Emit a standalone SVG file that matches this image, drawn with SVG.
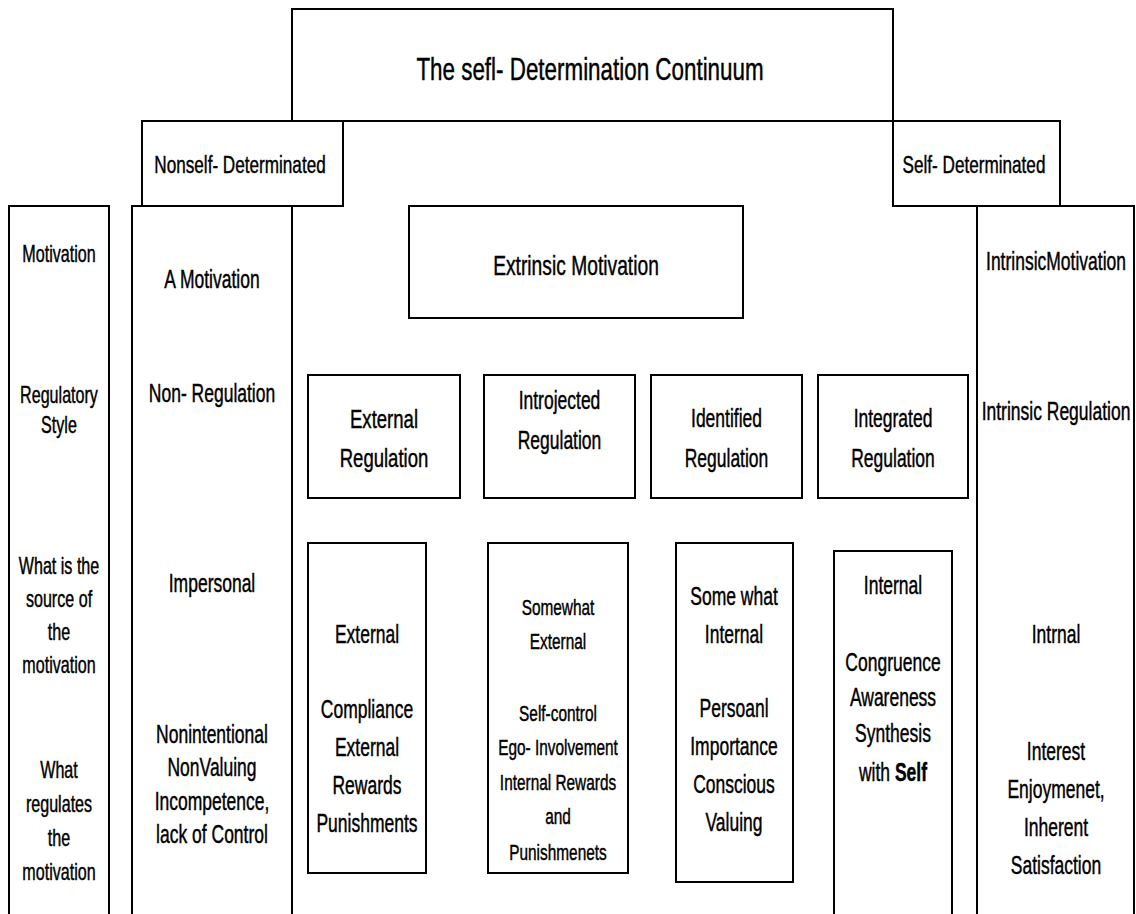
<svg xmlns="http://www.w3.org/2000/svg" width="1136" height="914" viewBox="0 0 1136 914">
  <style>
    .box{fill:#fff;stroke:#000;stroke-width:2}
    .open{fill:none;stroke:#000;stroke-width:2}
    text{font-family:"Liberation Sans",Arial,sans-serif;fill:#000;stroke:#000;stroke-width:0.45;text-anchor:middle}
    .f22{font-size:22px}
    .f23{font-size:23px}
    .f24{font-size:24.5px}
    .f25{font-size:25px}
    .f26{font-size:26.5px}
    .f27{font-size:27.5px}
    .f32{font-size:32px}
    .b{font-weight:bold}
  </style>
  <rect width="1136" height="914" fill="#fff"/>

  <!-- title -->
  <g id="title">
    <rect class="box" x="292" y="9" width="601" height="112"/>
    <text class="f32" transform="translate(590,80) scale(0.7,1)">The sefl- Determination Continuum</text>
  </g>

  <g id="nonself-determinated">
    <rect class="box" x="142" y="121" width="201" height="85"/>
    <text class="f24" transform="translate(240,173) scale(0.7,1)">Nonself- Determinated</text>
  </g>

  <g id="self-determinated">
    <rect class="box" x="893" y="121" width="167" height="85"/>
    <text class="f24" transform="translate(974,173) scale(0.7,1)">Self- Determinated</text>
  </g>

  <!-- row labels column -->
  <g id="row-labels">
    <path class="open" d="M9,916 V206 H109 V916"/>
    <text class="f23" transform="translate(59,262) scale(0.7,1)">Motivation</text>
    <text class="f23" transform="translate(59,403) scale(0.7,1)"><tspan x="0">Regulatory</tspan><tspan x="0" dy="30">Style</tspan></text>
    <text class="f23" transform="translate(59,574) scale(0.7,1)"><tspan x="0">What is the</tspan><tspan x="0" dy="33">source of</tspan><tspan x="0" dy="33">the</tspan><tspan x="0" dy="33">motivation</tspan></text>
    <text class="f23" transform="translate(59,778) scale(0.7,1)"><tspan x="0">What</tspan><tspan x="0" dy="34">regulates</tspan><tspan x="0" dy="34">the</tspan><tspan x="0" dy="34">motivation</tspan></text>
  </g>

  <!-- amotivation column -->
  <g id="amotivation">
    <path class="open" d="M132,916 V206 H292 V916"/>
    <text class="f25" transform="translate(212,288) scale(0.7,1)">A Motivation</text>
    <text class="f25" transform="translate(212,402) scale(0.7,1)">Non- Regulation</text>
    <text class="f25" transform="translate(212,592) scale(0.7,1)">Impersonal</text>
    <text class="f25" transform="translate(212,743) scale(0.7,1)"><tspan x="0">Nonintentional</tspan><tspan x="0" dy="33.5">NonValuing</tspan><tspan x="0" dy="33.5">Incompetence,</tspan><tspan x="0" dy="33.5">lack of Control</tspan></text>
  </g>

  <g id="extrinsic-motivation">
    <rect class="box" x="409" y="206" width="334" height="112"/>
    <text class="f27" transform="translate(576,275) scale(0.7,1)">Extrinsic Motivation</text>
  </g>

  <!-- regulatory styles -->
  <g id="external-regulation">
    <rect class="box" x="308" y="375" width="152" height="123"/>
    <text class="f26" transform="translate(384,428) scale(0.7,1)"><tspan x="0">External</tspan><tspan x="0" dy="39">Regulation</tspan></text>
  </g>
  <g id="introjected-regulation">
    <rect class="box" x="484" y="375" width="151" height="123"/>
    <text class="f25" transform="translate(559.5,409) scale(0.7,1)"><tspan x="0">Introjected</tspan><tspan x="0" dy="40">Regulation</tspan></text>
  </g>
  <g id="identified-regulation">
    <rect class="box" x="651" y="375" width="151" height="123"/>
    <text class="f25" transform="translate(726.5,427) scale(0.7,1)"><tspan x="0">Identified</tspan><tspan x="0" dy="40">Regulation</tspan></text>
  </g>
  <g id="integrated-regulation">
    <rect class="box" x="818" y="375" width="150" height="123"/>
    <text class="f25" transform="translate(893,427) scale(0.7,1)"><tspan x="0">Integrated</tspan><tspan x="0" dy="40">Regulation</tspan></text>
  </g>

  <!-- sources and regulators -->
  <g id="external-source">
    <rect class="box" x="308" y="543" width="118" height="330"/>
    <text class="f25" transform="translate(367,643) scale(0.7,1)">External</text>
    <text class="f25" transform="translate(367,718) scale(0.7,1)"><tspan x="0">Compliance</tspan><tspan x="0" dy="38">External</tspan><tspan x="0" dy="38">Rewards</tspan><tspan x="0" dy="38">Punishments</tspan></text>
  </g>
  <g id="somewhat-external-source">
    <rect class="box" x="488" y="543" width="140" height="330"/>
    <text class="f22" transform="translate(558,615) scale(0.7,1)"><tspan x="0">Somewhat</tspan><tspan x="0" dy="34">External</tspan></text>
    <text class="f22" transform="translate(558,721) scale(0.7,1)"><tspan x="0">Self-control</tspan><tspan x="0" dy="34.5">Ego- Involvement</tspan><tspan x="0" dy="35">Internal Rewards</tspan><tspan x="0" dy="34">and</tspan><tspan x="0" dy="35.5">Punishmenets</tspan></text>
  </g>
  <g id="somewhat-internal-source">
    <rect class="box" x="676" y="543" width="117" height="339"/>
    <text class="f25" transform="translate(734,605) scale(0.7,1)"><tspan x="0">Some what</tspan><tspan x="0" dy="38">Internal</tspan></text>
    <text class="f25" transform="translate(734,717) scale(0.7,1)"><tspan x="0">Persoanl</tspan><tspan x="0" dy="38.5">Importance</tspan><tspan x="0" dy="38">Conscious</tspan><tspan x="0" dy="38">Valuing</tspan></text>
  </g>
  <g id="internal-source">
    <path class="open" d="M834,916 V551 H952 V916"/>
    <text class="f25" transform="translate(893,594) scale(0.7,1)">Internal</text>
    <text class="f25" transform="translate(893,671) scale(0.7,1)"><tspan x="0">Congruence</tspan><tspan x="0" dy="35.5">Awareness</tspan><tspan x="0" dy="36">Synthesis</tspan><tspan x="0" dy="38.5">with <tspan class="b">Self</tspan></tspan></text>
  </g>

  <!-- intrinsic motivation column -->
  <g id="intrinsic-motivation">
    <path class="open" d="M977,916 V206 H1134 V916"/>
    <text class="f25" transform="translate(1056,270) scale(0.7,1)">IntrinsicMotivation</text>
    <text class="f25" transform="translate(1056,420) scale(0.7,1)">Intrinsic Regulation</text>
    <text class="f25" transform="translate(1056,643) scale(0.7,1)">Intrnal</text>
    <text class="f25" transform="translate(1056,760) scale(0.7,1)"><tspan x="0">Interest</tspan><tspan x="0" dy="38">Enjoymenet,</tspan><tspan x="0" dy="38">Inherent</tspan><tspan x="0" dy="38">Satisfaction</tspan></text>
  </g>
</svg>
